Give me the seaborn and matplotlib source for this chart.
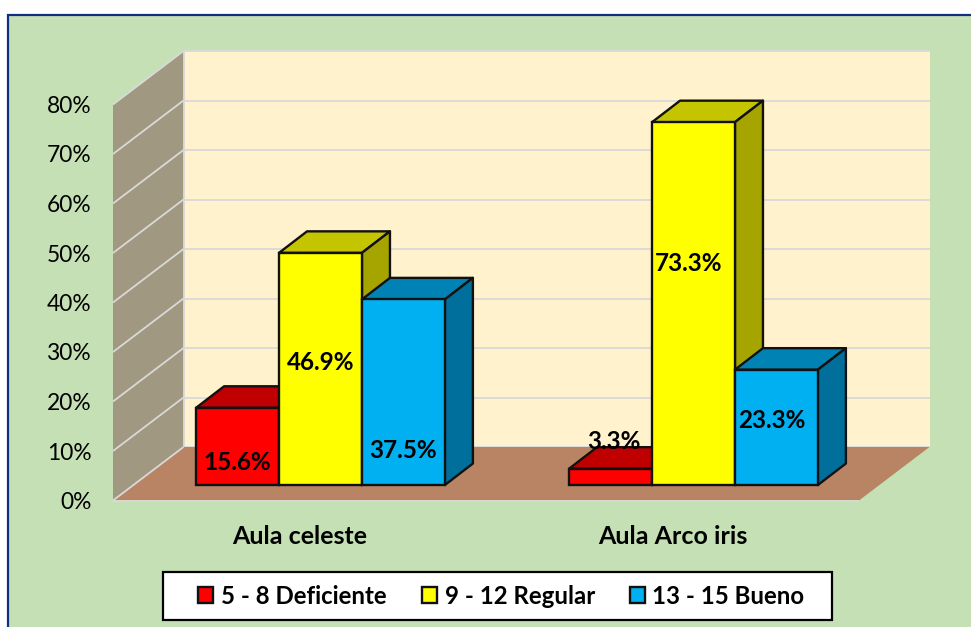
import matplotlib
matplotlib.use("Agg")
import matplotlib.pyplot as plt
from matplotlib.patches import Polygon, Rectangle
import pandas as pd
import seaborn as sns

aulas = ["Aula celeste", "Aula Arco iris"]
niveles = ["5 - 8 Deficiente", "9 - 12 Regular", "13 - 15 Bueno"]
deficiente = [15.6, 3.3]
regular = [46.9, 73.3]
bueno = [37.5, 23.3]
y_ticks = [0, 10, 20, 30, 40, 50, 60, 70, 80]

front_colors = ["#FF0000", "#FFFF00", "#00B0F0"]
top_colors = ["#C00000", "#C4C400", "#0083B4"]
side_colors = ["#A00000", "#A6A500", "#006F9B"]
# label centre height (in % units above the bar base) and x nudge in pixels, as placed in the original
label_heights = [[4.8, 9.0], [25.0, 45.0], [7.1, 13.2]]
label_nudges = [[0, 3.5], [0, -4.5], [0, -4.5]]

W, H = 971, 627
sns.set_theme(style="white")
plt.rcParams["font.family"] = ["Lato", "DejaVu Sans"]
fig = plt.figure(figsize=(W / 100, H / 100), dpi=100, facecolor="white")


def px_box(x0, y0, x1, y1):
    return [x0 / W, 1 - y1 / H, (x1 - x0) / W, (y1 - y0) / H]


# panel background
fig.add_artist(Rectangle((8 / W, -0.01), 1, 1.01 - 14.5 / H, transform=fig.transFigure, facecolor="#C5E0B4",
                         edgecolor="#0F2F7F", linewidth=1.6, clip_on=False, zorder=-2))
# legend box
fig.add_artist(Rectangle((162.5 / W, 1 - 620 / H), 669.5 / W, 48 / H, transform=fig.transFigure, facecolor="white",
                         edgecolor="black", linewidth=1.6, zorder=5))

# front plane of the box (axis labels and walls)
FX0, FX1, FY0, FY1 = 113, 859, 500.5, 104.5
ax_f = fig.add_axes(px_box(FX0, FY1, FX1, FY0))
ax_f.patch.set_alpha(0)
ax_f.set_xlim(-0.5, 1.5)
ax_f.set_ylim(0, 80)
px_x = 2 / (FX1 - FX0)
px_y = 80 / (FY0 - FY1)
back_dx, back_dy = 70.5 * px_x, 53.5 * px_y
xl, xr = -0.5, 1.5
top = y_ticks[-1]
ax_f.add_patch(Polygon([(xl + back_dx, back_dy), (xr + back_dx, back_dy), (xr + back_dx, top + back_dy),
                        (xl + back_dx, top + back_dy)], facecolor="#FFF2CC", edgecolor="none", clip_on=False, zorder=1))
ax_f.add_patch(Polygon([(xl, 0), (xl + back_dx, back_dy), (xl + back_dx, top + back_dy), (xl, top)],
                       facecolor="#A09880", edgecolor="none", clip_on=False, zorder=1))
ax_f.add_patch(Polygon([(xl, 0), (xr, 0), (xr + back_dx, back_dy), (xl + back_dx, back_dy)],
                       facecolor="#B88464", edgecolor="none", clip_on=False, zorder=2))
grid = dict(color="#D9D9D9", lw=1.3, clip_on=False, solid_capstyle="butt")
for t in y_ticks:
    ax_f.plot([xl + back_dx, xr + back_dx], [t + back_dy] * 2, zorder=1.5, **grid)
    ax_f.plot([xl, xl + back_dx], [t, t + back_dy], zorder=3, **grid)
ax_f.plot([xl + back_dx] * 2, [back_dy, top + back_dy], zorder=3, **grid)
ax_f.plot([xl, xr], [0, 0], zorder=3, **grid)
for s in ax_f.spines.values():
    s.set_visible(False)
ax_f.set_yticks(y_ticks)
ax_f.set_yticklabels([f"{t}%" for t in y_ticks], fontsize=16.4, color="black")
ax_f.set_xticks([0, 1])
ax_f.set_xticklabels(aulas, fontsize=18, fontweight="bold", color="black")
ax_f.tick_params(axis="y", length=0, pad=15.5)
ax_f.tick_params(axis="x", length=0, pad=17.5)

# bars, on a plane part-way into the box
BX0, BY0 = FX0 + 21, 485
ax_b = fig.add_axes(px_box(BX0, BY0 - (FY0 - FY1), BX0 + (FX1 - FX0), BY0))
ax_b.patch.set_alpha(0)
df = pd.DataFrame({
    "aula": aulas * 3,
    "nivel": [n for n in niveles for _ in aulas],
    "pct": deficiente + regular + bueno,
})
sns.barplot(data=df, x="aula", y="pct", hue="nivel", order=aulas, hue_order=niveles,
            palette=front_colors, width=0.667, gap=0, errorbar=None, saturation=1,
            edgecolor="#111111", linewidth=1.7, ax=ax_b)
ax_b.set_xlim(-0.5, 1.5)
ax_b.set_ylim(0, 80)
handles, labels = ax_b.get_legend_handles_labels()
ax_b.get_legend().remove()
ax_b.set_axis_off()

bar_dx, bar_dy = 28 * px_x, 21.5 * px_y
edge = dict(edgecolor="#111111", linewidth=1.7, joinstyle="round", clip_on=False)
bars = []
for h, cont in enumerate(ax_b.containers):
    for c, patch in enumerate(cont):
        bars.append((patch.get_x(), h, c, patch))
for order, (x0, h, c, patch) in enumerate(sorted(bars, key=lambda b: b[0])):
    x1 = x0 + patch.get_width()
    yt = patch.get_height()
    z = 3 + order * 3
    ax_b.add_patch(Polygon([(x0, yt), (x1, yt), (x1 + bar_dx, yt + bar_dy), (x0 + bar_dx, yt + bar_dy)],
                           facecolor=top_colors[h], zorder=z, **edge))
    ax_b.add_patch(Polygon([(x1, 0), (x1 + bar_dx, bar_dy), (x1 + bar_dx, yt + bar_dy), (x1, yt)],
                           facecolor=side_colors[h], zorder=z + 1, **edge))
    patch.set_zorder(z + 2)
    patch.set_clip_on(False)

for h, cont in enumerate(ax_b.containers):
    for c, patch in enumerate(cont):
        ax_b.annotate(f"{patch.get_height():.1f}%",
                      (patch.get_x() + patch.get_width() / 2, label_heights[h][c]),
                      xytext=(label_nudges[h][c] * 0.72, -0.7), textcoords="offset points",
                      ha="center", va="center", fontsize=17.5, fontweight="bold", color="black",
                      zorder=100, annotation_clip=False)

leg = fig.legend(handles, labels, ncol=3, loc="center", bbox_to_anchor=(501.5 / W, 1 - 596 / H),
                 frameon=False, handlelength=0.62, handleheight=0.62, handletextpad=0.33, columnspacing=1.45,
                 borderpad=0, borderaxespad=0, prop=dict(size=17.3, weight="bold"))
leg.set_zorder(6)
for t in leg.get_texts():
    t.set_color("black")

fig.savefig("out.png", dpi=100)
